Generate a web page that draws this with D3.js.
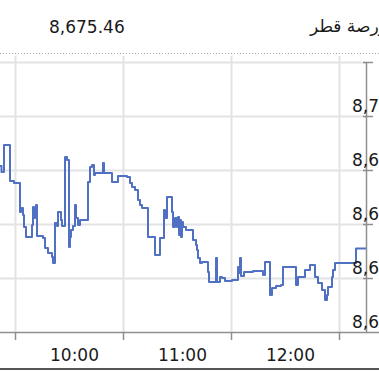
<!DOCTYPE html>
<html>
<head>
<meta charset="utf-8">
<script src="https://cdn.jsdelivr.net/npm/d3@7"></script>
<style>
  html, body { margin: 0; padding: 0; background: #fff; overflow: hidden; }
  svg { display: block; }
</style>
</head>
<body>
<svg id="chart" width="379" height="371"></svg>
<script>
// ---- data ----
const title = "بورصة قطر";
const lastValue = 8675.46;
const times = [
  "09:21:40","09:22:30","09:23:53","09:27:13","09:29:27","09:32:47","09:33:20","09:34:27","09:35:00","09:36:07",
  "09:39:27","09:40:00","09:40:33","09:41:07","09:41:40","09:42:13","09:45:33","09:46:40","09:48:20","09:50:33",
  "09:51:07","09:52:13","09:53:20","09:53:53","09:55:33","09:56:07","09:57:47","09:58:53","10:00:00","10:00:33",
  "10:01:07","10:02:13","10:03:20","10:03:53","10:05:00","10:06:07","10:10:33","10:11:40","10:12:47","10:13:53",
  "10:14:27","10:18:53","10:19:27","10:23:53","10:27:13","10:32:13","10:33:53","10:35:00","10:36:40","10:38:20",
  "10:39:27","10:40:33","10:43:53","10:47:47","10:50:33","10:52:47","10:53:20","10:54:27","10:57:13","10:57:47",
  "10:58:53","11:00:00","11:00:33","11:01:07","11:01:40","11:02:13","11:02:47","11:03:20","11:05:00","11:08:53",
  "11:10:33","11:11:07","11:11:40","11:12:47","11:13:53","11:17:13","11:17:47","11:21:40","11:22:13","11:23:53",
  "11:25:00","11:26:40","11:30:33","11:33:53","11:34:27","11:35:00","11:35:33","11:37:13","11:42:13","11:47:47",
  "11:48:53","11:51:40","11:52:47","11:55:00","11:57:47","11:58:53","12:06:07","12:07:13","12:11:07","12:13:53",
  "12:16:40","12:18:20","12:20:33","12:22:13","12:23:20","12:23:53","12:26:07","12:26:40","12:27:47","12:39:27",
  "12:45:00"
];
const values = [
  8690.74,8689.63,8694.63,8687.96,8687.59,8682.22,8682.96,8681.67,8679.44,8677.59,
  8679.81,8683.15,8681.11,8682.59,8683.52,8677.78,8677.41,8675.56,8674.63,8673.89,
  8672.78,8680.19,8679.63,8682.22,8680.74,8679.63,8692.41,8691.85,8675.74,8677.59,
  8678.89,8679.63,8683.52,8681.11,8679.81,8680.74,8687.78,8690.56,8690.93,8689.07,
  8689.44,8691.30,8689.44,8687.78,8688.89,8688.70,8687.59,8686.85,8686.30,8684.44,
  8683.52,8682.96,8677.59,8674.26,8677.41,8682.59,8681.11,8685.00,8682.22,8679.44,
  8681.11,8679.44,8681.30,8677.96,8680.74,8677.59,8680.37,8679.44,8678.89,8677.04,
  8676.11,8675.19,8673.70,8672.78,8672.96,8671.11,8669.26,8673.70,8669.26,8670.19,
  8670.00,8669.44,8669.63,8672.04,8670.93,8673.70,8670.37,8671.11,8671.30,8670.56,
  8672.96,8666.85,8668.15,8668.52,8668.70,8672.04,8668.70,8670.19,8671.48,8672.41,
  8670.19,8669.07,8667.78,8665.93,8666.85,8668.33,8670.19,8671.48,8672.78,8675.46,
  8675.46
];
const gridTimes = ["09:30","10:30","11:30","12:30"];
const labelTimes = ["10:00","11:00","12:00"];
const gridValues = [8670, 8680, 8690, 8700, 8710];
const labelValues = [8660, 8670, 8680, 8690, 8700];

// ---- setup ----
const parseT = d3.timeParse("%H:%M:%S");
const parseHM = d3.timeParse("%H:%M");
const data = times.map((t, i) => ({ t: parseT(t), v: values[i] }));

const svg = d3.select("#chart");
const W = 379, H = 371;
const plotTop = 62, plotBottom = 332, axisX = 366;
const FONT = "'DejaVu Sans', Verdana, sans-serif";

const x = d3.scaleTime().domain([parseHM("09:30"), parseHM("12:30")]).range([15, 339]);
const y = d3.scaleLinear().domain([8660, 8710]).range([plotBottom, plotTop]);

// header
svg.append("text").attr("x", 49).attr("y", 33)
  .attr("font-family", FONT).attr("font-size", 17).attr("fill", "#1a1a1a")
  .text(d3.format(",.2f")(lastValue));
svg.append("text").attr("x", 310).attr("y", 32)
  .attr("font-family", FONT).attr("font-size", 17).attr("fill", "#1a1a1a")
  .text(title);
svg.append("line").attr("x1", 0).attr("x2", W).attr("y1", 53.5).attr("y2", 53.5)
  .attr("stroke", "#b0b0b0").attr("stroke-width", 1).attr("stroke-dasharray", "1,2");

// vertical gridlines
const gx = svg.append("g").attr("transform", `translate(0,${plotBottom})`)
  .call(d3.axisBottom(x).tickValues(gridTimes.map(parseHM)).tickSize(-(plotBottom - 56)).tickFormat(""));
gx.select(".domain").remove();
gx.selectAll(".tick line").attr("stroke", "#e3e3e3").attr("stroke-width", 2);

// horizontal gridlines
const gy = svg.append("g").attr("transform", `translate(${axisX},0)`)
  .call(d3.axisLeft(y).tickValues(gridValues).tickSize(axisX).tickFormat(""));
gy.select(".domain").remove();
gy.selectAll(".tick line").attr("stroke", "#e3e3e3").attr("stroke-width", 2);

// clip
svg.append("clipPath").attr("id", "clip").append("rect")
  .attr("x", 0).attr("y", plotTop - 10).attr("width", axisX).attr("height", plotBottom - plotTop + 10);

// line
const line = d3.line().x(d => x(d.t)).y(d => y(d.v)).curve(d3.curveStepAfter);
svg.append("path").datum(data).attr("clip-path", "url(#clip)")
  .attr("fill", "none").attr("stroke", "#5070c4").attr("stroke-width", 2)
  .attr("stroke-linejoin", "round").attr("d", line);

// x axis line + ticks
svg.append("line").attr("x1", 0).attr("x2", W).attr("y1", plotBottom + 0.5).attr("y2", plotBottom + 0.5)
  .attr("stroke", "#8f8f8f").attr("stroke-width", 1.5);
const xt = svg.append("g").attr("transform", `translate(0,${plotBottom})`)
  .call(d3.axisBottom(x).tickValues(gridTimes.map(parseHM)).tickSize(8).tickFormat(""));
xt.select(".domain").remove();
xt.selectAll(".tick line").attr("stroke", "#8f8f8f").attr("stroke-width", 1.5);

// x labels
const xl = svg.append("g").attr("transform", `translate(0,${plotBottom})`)
  .call(d3.axisBottom(x).tickValues(labelTimes.map(parseHM)).tickSize(0).tickFormat(d3.timeFormat("%H:%M")));
xl.select(".domain").remove();
xl.selectAll("text").attr("font-family", FONT).attr("font-size", 17).attr("fill", "#1a1a1a")
  .attr("dx", 5).attr("dy", 0).attr("y", 28.5);

// y axis
svg.append("line").attr("x1", axisX + 0.5).attr("x2", axisX + 0.5).attr("y1", plotTop).attr("y2", plotBottom)
  .attr("stroke", "#8f8f8f").attr("stroke-width", 1.5);
const yt = svg.append("g").attr("transform", `translate(${axisX + 7},0)`)
  .call(d3.axisLeft(y).tickValues(gridValues).tickSize(10).tickFormat(""));
yt.select(".domain").remove();
yt.selectAll(".tick line").attr("stroke", "#8f8f8f").attr("stroke-width", 1.5);

const yl = svg.append("g").attr("transform", `translate(352,0)`)
  .call(d3.axisRight(y).tickValues(labelValues).tickSize(0).tickFormat(d3.format(",")));
yl.select(".domain").remove();
yl.selectAll("text").attr("font-family", FONT).attr("font-size", 17).attr("fill", "#1a1a1a")
  .attr("x", 0).attr("dy", -5).attr("text-anchor", "start").attr("dominant-baseline", "auto");

// bottom border
svg.append("line").attr("x1", 0).attr("x2", W).attr("y1", 369).attr("y2", 369)
  .attr("stroke", "#555").attr("stroke-width", 2);
</script>
</body>
</html>
